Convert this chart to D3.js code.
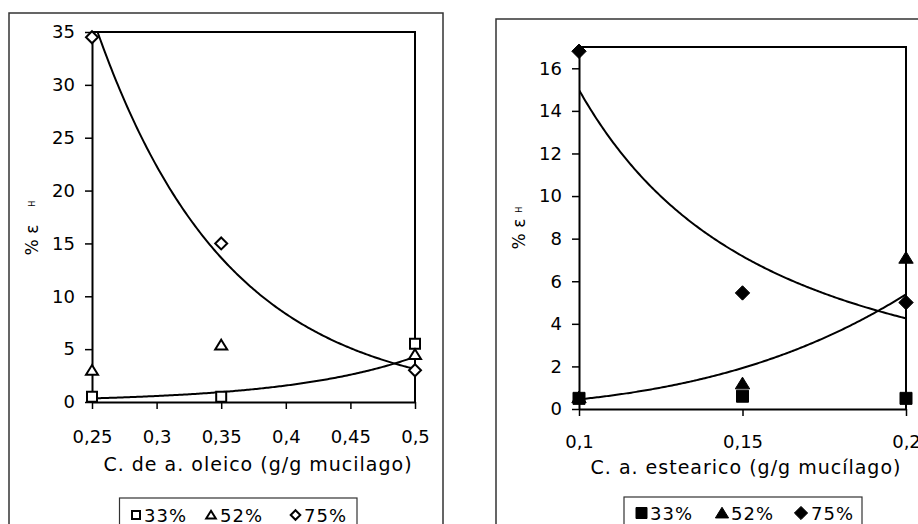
<!DOCTYPE html>
<html>
<head>
<meta charset="utf-8">
<script src="https://cdn.jsdelivr.net/npm/d3@7"></script>
<style>
  html, body { margin: 0; padding: 0; background: #fff; }
  svg { display: block; }
  text { font-family: "DejaVu Sans", sans-serif; fill: #000; }
</style>
</head>
<body>
<svg id="chart" width="918" height="524"></svg>
<script>
// ---- data ----
const seriesNames = ["33%", "52%", "75%"];

const oleicX = [0.25, 0.35, 0.5];
const oleic33 = [0.5, 0.5, 5.5];
const oleic52 = [3, 5.4, 4.5];
const oleic75 = [34.5, 15, 3];
const oleicXTicks = [0.25, 0.3, 0.35, 0.4, 0.45, 0.5];
const oleicYTicks = [0, 5, 10, 15, 20, 25, 30, 35];

const stearX = [0.1, 0.15, 0.2];
const stear33 = [0.5, 0.6, 0.5];
const stear52 = [0.55, 1.2, 7.1];
const stear75 = [16.8, 5.45, 5.0];
const stearXTicks = [0.1, 0.15, 0.2];
const stearYTicks = [0, 2, 4, 6, 8, 10, 12, 14, 16];

// ---- helpers ----
const locale = d3.formatLocale({ decimal: ",", thousands: ".", grouping: [3], currency: ["", ""] });
const fmt = v => locale.format("")(+v.toFixed(3));

// least-squares fit of ln(y) on x  ->  y = a * exp(b x)
function fitExp(xs, ys) {
  const lx = xs, ly = ys.map(Math.log);
  const mx = d3.mean(lx), my = d3.mean(ly);
  const b = d3.sum(lx.map((x, i) => (x - mx) * (ly[i] - my))) / d3.sum(lx.map(x => (x - mx) ** 2));
  return x => Math.exp(my + b * (x - mx));
}
// least-squares fit of ln(y) on ln(x)  ->  y = a * x^b
function fitPow(xs, ys) {
  const lx = xs.map(Math.log), ly = ys.map(Math.log);
  const mx = d3.mean(lx), my = d3.mean(ly);
  const b = d3.sum(lx.map((x, i) => (x - mx) * (ly[i] - my))) / d3.sum(lx.map(x => (x - mx) ** 2));
  return x => Math.exp(my + b * (Math.log(x) - mx));
}

function markerPath(si, s) {
  const h = s / 2;
  if (si === 0) return `M${-h},${-h}H${h}V${h}H${-h}Z`;
  if (si === 1) { const w = h * 1.2; return `M0,${-h * 1.05}L${w},${h * 0.9}H${-w}Z`; }
  const d = h * 1.2;
  return `M0,${-d}L${d},0L0,${d}L${-d},0Z`;
}

const svg = d3.select("#chart");

function drawPanel(cfg) {
  const g = svg.append("g");
  // outer chart frame
  g.append("rect")
    .attr("x", cfg.frame[0]).attr("y", cfg.frame[1])
    .attr("width", cfg.frame[2]).attr("height", cfg.frame[3])
    .attr("fill", "none").attr("stroke", "#333").attr("stroke-width", 1.5);

  const x = d3.scaleLinear().domain(cfg.xDomain).range(cfg.xRange);
  const y = d3.scaleLinear().domain(cfg.yDomain).range(cfg.yRange);

  const clipId = "clip-" + cfg.id;
  g.append("clipPath").attr("id", clipId).append("rect")
    .attr("x", x.range()[0]).attr("y", y.range()[1])
    .attr("width", x.range()[1] - x.range()[0]).attr("height", y.range()[0] - y.range()[1]);

  // plot box: top and right edges
  g.append("path")
    .attr("d", `M${x.range()[0]},${y.range()[1]}H${x.range()[1]}V${y.range()[0]}`)
    .attr("fill", "none").attr("stroke", "#000").attr("stroke-width", 2);

  // axes
  const yAxis = d3.axisLeft(y).tickValues(cfg.yTicks).tickSize(7).tickSizeOuter(0)
    .tickPadding(10).tickFormat(d => fmt(d));
  const ya = g.append("g").attr("transform", `translate(${x.range()[0]},0)`).call(yAxis);
  const xAxis = d3.axisBottom(x).tickValues(cfg.xTicks).tickSize(7).tickSizeOuter(0)
    .tickPadding(cfg.xPad).tickFormat(d => fmt(d));
  const xa = g.append("g").attr("transform", `translate(0,${y.range()[0]})`).call(xAxis);
  [ya, xa].forEach(a => {
    a.attr("font-size", null).attr("font-family", null);
    a.select(".domain").attr("stroke", "#000").attr("stroke-width", 2);
    a.selectAll(".tick line").attr("stroke", "#000").attr("stroke-width", 1.5);
    a.selectAll(".tick text").attr("font-size", 18).attr("fill", "#000");
  });

  // axis titles
  g.append("text").attr("x", cfg.xTitlePos[0]).attr("y", cfg.xTitlePos[1])
    .attr("text-anchor", "middle").attr("font-size", 19).attr("letter-spacing", 1)
    .text(cfg.xTitle);
  const yt = g.append("text")
    .attr("transform", `translate(${cfg.yTitlePos[0]},${cfg.yTitlePos[1]}) rotate(-90)`)
    .attr("text-anchor", "middle").attr("font-size", 17);
  yt.append("tspan").text("% ε");
  yt.append("tspan").attr("font-size", 8).attr("dx", cfg.hGap).attr("dy", -3).text("H");

  // trend lines
  const samples = d3.range(0, 201).map(i => cfg.xDomain[0] + (cfg.xDomain[1] - cfg.xDomain[0]) * i / 200);
  const line = d3.line().x(d => x(d[0])).y(d => y(d[1]));
  cfg.trends.forEach(f => {
    g.append("path").attr("clip-path", `url(#${clipId})`)
      .attr("d", line(samples.map(s => [s, f(s)])))
      .attr("fill", "none").attr("stroke", "#000").attr("stroke-width", 2);
  });

  // markers
  const filled = cfg.filled;
  cfg.series.forEach((vals, si) => {
    vals.forEach((v, i) => {
      g.append("path")
        .attr("transform", `translate(${x(cfg.xs[i])},${y(v)})`)
        .attr("d", markerPath(si, cfg.markerSize))
        .attr("fill", filled ? "#000" : "#fff")
        .attr("stroke", "#000").attr("stroke-width", filled ? 1 : 2)
        .attr("stroke-linejoin", "miter");
    });
  });

  // legend
  const L = cfg.legend;
  g.append("rect").attr("x", L.box[0]).attr("y", L.box[1]).attr("width", L.box[2]).attr("height", 40)
    .attr("fill", "#fff").attr("stroke", "#333").attr("stroke-width", 1.2);
  seriesNames.forEach((name, si) => {
    g.append("path")
      .attr("transform", `translate(${L.markerX[si]},${L.cy})`)
      .attr("d", markerPath(si, L.size))
      .attr("fill", filled ? "#000" : "#fff")
      .attr("stroke", "#000").attr("stroke-width", filled ? 1 : 2);
    g.append("text").attr("x", L.textX[si]).attr("y", L.baseline)
      .attr("font-size", 18).attr("letter-spacing", 1).text(name);
  });
}

drawPanel({
  id: "oleic",
  frame: [9, 13, 434, 530],
  xDomain: [0.25, 0.5], xRange: [92, 415],
  yDomain: [0, 35], yRange: [402, 32],
  xTicks: oleicXTicks, yTicks: oleicYTicks,
  xPad: 21,
  xTitle: "C. de a. oleico (g/g mucilago)", xTitlePos: [258, 471],
  yTitlePos: [38, 228], hGap: 18,
  xs: oleicX, series: [oleic33, oleic52, oleic75],
  trends: [fitExp(oleicX, oleic33), fitExp(oleicX, oleic75)],
  filled: false, markerSize: 10,
  legend: { box: [119.5, 498, 237.5], cy: 515, size: 8, baseline: 521.5,
            markerX: [136, 211, 295.5], textX: [144, 220, 304] }
});

drawPanel({
  id: "stear",
  frame: [496, 19, 440, 530],
  xDomain: [0.1, 0.2], xRange: [579, 906],
  yDomain: [0, 17], yRange: [409, 47],
  xTicks: stearXTicks, yTicks: stearYTicks,
  xPad: 19,
  xTitle: "C. a. estearico (g/g mucílago)", xTitlePos: [746, 474],
  yTitlePos: [525, 228], hGap: 6,
  xs: stearX, series: [stear33, stear52, stear75],
  trends: [fitPow(stearX, stear52), fitPow(stearX, stear75)],
  filled: true, markerSize: 12,
  legend: { box: [624, 497, 238], cy: 513, size: 11, baseline: 519.5,
            markerX: [641.5, 722, 801], textX: [650, 731, 811] }
});
</script>
</body>
</html>
